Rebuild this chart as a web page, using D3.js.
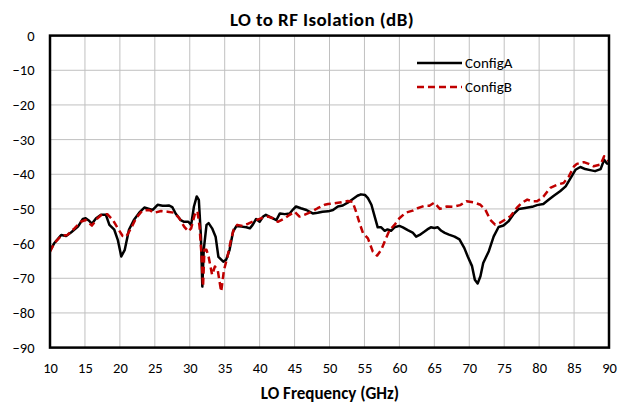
<!DOCTYPE html>
<html>
<head>
<meta charset="utf-8">
<script src="https://d3js.org/d3.v7.min.js"></script>
<style>
  body { margin: 0; background: #fff; }
  text { font-family: Carlito, Lato, "Open Sans", sans-serif; fill: #000; }
  .grid line { stroke: #c0c0c0; stroke-width: 1; }
</style>
</head>
<body>
<svg width="630" height="406"></svg>
<script>
// LO frequency (GHz) and isolation (dB)
var freqA = [10, 10.6, 11.6, 12.3, 13, 14, 14.7, 15.1, 15.6, 16, 16.6, 17.3, 18, 18.5, 19.2, 19.7, 20.2, 20.7, 21.3, 22,
  22.8, 23.5, 24.2, 24.7, 25.4, 26.1, 26.6, 27, 27.5, 28, 28.7, 29.2, 29.8, 30.2, 30.6, 31, 31.3, 31.6, 31.8, 32,
  32.4, 32.7, 33.2, 33.7, 34.1, 34.8, 35.2, 35.7, 36.2, 36.7, 37.4, 38.1, 38.6, 39, 39.5, 40, 40.5, 40.9, 41.4, 41.9,
  42.4, 42.9, 43.6, 44.3, 44.8, 45.2, 45.9, 46.7, 47.6, 48.3, 49, 49.8, 50.5, 51.2, 51.9, 52.6, 53.3, 54, 54.5, 55.1,
  55.5, 56, 56.4, 56.9, 57.4, 57.9, 58.3, 58.8, 59.3, 60, 60.5, 61.2, 61.9, 62.4, 62.9, 63.6, 64, 64.5, 65, 65.5,
  66, 66.5, 67.1, 67.9, 68.6, 69.3, 69.8, 70.4, 70.8, 71.2, 71.6, 72, 72.8, 73.5, 74.2, 74.9, 75.6, 76.3, 77.1, 78,
  79, 79.7, 80.6, 81.4, 82.1, 83, 83.8, 84.5, 85.2, 85.9, 86.6, 87.3, 88, 88.8, 89.3, 89.7, 90];
var configA = [-62, -59.9, -57.5, -57.8, -56.8, -55.1, -52.9, -52.7, -53.4, -54.3, -52.7, -51.7, -51.7, -54.6, -56, -58.9, -63.7, -61.8, -56, -53.2,
  -51, -49.6, -50, -50.3, -48.8, -49.1, -49.1, -49, -49.5, -51.4, -53.2, -53.7, -53.7, -54.6, -49.3, -46.4, -47.4, -58, -72.4, -61.8,
  -54.6, -54.1, -55.6, -58, -63.8, -65.2, -64.7, -61.8, -56.5, -54.9, -55.1, -55.3, -55.6, -54.6, -52.9, -53.7, -52.2, -51.7, -52.2, -52.7,
  -53.2, -51.3, -51.5, -51.3, -50.1, -49.3, -49.8, -50.3, -51.3, -51.1, -50.8, -50.7, -50.3, -49.3, -49, -48.2, -47.2, -46.2, -45.8, -46,
  -46.9, -48.8, -51.7, -55.3, -55.3, -56.3, -55.9, -56.3, -55.3, -54.9, -55.3, -56.1, -56.8, -58, -57.5, -56.5, -55.9, -55.3, -55.5, -55.3,
  -56.3, -56.9, -57.4, -58, -58.8, -61.3, -63.8, -66.5, -70.4, -71.5, -69.4, -65.6, -62.2, -57.9, -55.2, -54.8, -53.6, -51.6, -50, -49.7,
  -49.4, -48.9, -48.6, -47.3, -46.2, -44.9, -43.5, -41.1, -38.7, -37.9, -38.5, -38.8, -39.1, -38.5, -35.8, -36.9, -37];

var freqB = [10, 10.6, 11.6, 12.5, 13.5, 14.4, 15.1, 16, 16.8, 17.5, 18.2, 19, 19.7, 20.4, 20.9, 21.6, 22.3, 23.2, 24.2, 24.9,
  25.9, 26.8, 27.8, 28.5, 29.2, 29.8, 30.2, 30.7, 31.1, 31.4, 31.7, 31.9, 32.1, 32.4, 32.7, 33.2, 33.6, 34, 34.3, 34.5,
  34.9, 35.4, 35.9, 36.3, 36.8, 37.6, 38.3, 39.3, 40.2, 41.2, 41.9, 42.6, 43.6, 44.3, 45, 45.7, 46.4, 47.4, 48.3, 49.3,
  49.8, 50.7, 51.7, 52.6, 53.3, 53.8, 54.3, 54.8, 55.5, 56.2, 56.8, 57.4, 58, 58.6, 59.3, 60, 60.9, 61.9, 62.6, 63.6,
  64.3, 65, 65.8, 66.8, 67.7, 68.7, 69.6, 70.6, 71.6, 72.3, 73, 73.7, 74.4, 75.1, 75.9, 76.8, 77.5, 78.3, 79, 79.7,
  80.6, 81.6, 82.6, 83.5, 84.2, 85, 85.4, 86.4, 87.1, 87.8, 88.8, 89.3, 90];
var configB = [-62.3, -59.9, -57.8, -57.5, -55.6, -53.7, -53.2, -54.8, -52.7, -51.5, -51.5, -53.2, -55.6, -57.8, -58, -55.6, -52.7, -50.5, -50.3, -51.1,
  -50.6, -50.8, -51.1, -52.7, -55.1, -56.5, -55.6, -51.7, -50.6, -55.1, -63.8, -72.4, -61.8, -61.8, -63.8, -69, -66.6, -67.6, -71.4, -73.8,
  -67.6, -63.8, -58.9, -55.9, -54.6, -54.9, -54.3, -53.4, -52.7, -52.2, -52.7, -53.7, -52.7, -51.7, -50.8, -52.2, -51.7, -50.8, -49.8, -48.8,
  -48.6, -48.4, -48.1, -47.7, -47.9, -50.8, -54.1, -57, -58.5, -62.3, -63.5, -61.8, -58.9, -56.1, -54.6, -52.7, -51.1, -50.5, -49.8, -49.1,
  -49.1, -48.2, -50, -49.3, -49.4, -48.9, -47.8, -48.1, -48.8, -50.2, -53.1, -54.5, -54, -53.1, -52.1, -49.7, -48.3, -47.3, -47.8, -47.8,
  -46.5, -43.9, -43, -42.5, -40.8, -37.7, -37, -36.5, -37, -37.7, -37.2, -34.8, -36.3];

var xTicks = d3.range(10, 91, 5);
var yTicks = d3.range(0, -91, -10);

var svg = d3.select("svg");
var margin = {top: 35.6, right: 21, bottom: 58.4, left: 50};
var width = 630 - margin.left - margin.right;
var height = 406 - margin.top - margin.bottom;

var x = d3.scaleLinear().domain([10, 90]).range([0, width]);
var y = d3.scaleLinear().domain([-90, 0]).range([height, 0]);

var g = svg.append("g").attr("transform", "translate(" + margin.left + "," + margin.top + ")");

// grid
g.append("g").attr("class", "grid")
  .selectAll("line.v").data(xTicks).enter().append("line")
  .attr("x1", function(d) { return x(d); }).attr("x2", function(d) { return x(d); })
  .attr("y1", 0).attr("y2", height);
g.append("g").attr("class", "grid")
  .selectAll("line.h").data(yTicks).enter().append("line")
  .attr("y1", function(d) { return y(d); }).attr("y2", function(d) { return y(d); })
  .attr("x1", 0).attr("x2", width);

// axes (labels only)
var xAxis = g.append("g").attr("transform", "translate(0," + height + ")")
  .call(d3.axisBottom(x).tickValues(xTicks).tickSize(0).tickPadding(15));
var yAxis = g.append("g")
  .call(d3.axisLeft(y).tickValues(yTicks).tickSize(0).tickPadding(15.5));
[xAxis, yAxis].forEach(function(a) {
  a.select(".domain").remove();
  a.selectAll("text").style("font-size", "14.5px").attr("font-family", null);
});

// lines
var line = d3.line()
  .x(function(d) { return x(d[0]); })
  .y(function(d) { return y(d[1]); });

g.append("path")
  .datum(d3.zip(freqA, configA))
  .attr("d", line)
  .attr("fill", "none").attr("stroke", "#000").attr("stroke-width", 2.5)
  .attr("stroke-linejoin", "round");

g.append("path")
  .datum(d3.zip(freqB, configB))
  .attr("d", line)
  .attr("fill", "none").attr("stroke", "#c00000").attr("stroke-width", 2.5)
  .attr("stroke-dasharray", "7,4").attr("stroke-linejoin", "round");

// frame
g.append("rect").attr("width", width).attr("height", height)
  .attr("fill", "none").attr("stroke", "#000").attr("stroke-width", 2.5);

// title and axis label
svg.append("text").attr("x", 322).attr("y", 26)
  .attr("text-anchor", "middle").style("font-size", "19px").style("font-weight", "bold")
  .style("letter-spacing", "0.4px")
  .text("LO to RF Isolation (dB)");
svg.append("text").attr("x", 330).attr("y", 399)
  .attr("text-anchor", "middle").style("font-size", "17px").style("font-weight", "bold")
  .text("LO Frequency (GHz)");

// legend
var legend = svg.append("g").attr("transform", "translate(417,63)");
var items = [{name: "ConfigA", color: "#000", dash: null}, {name: "ConfigB", color: "#c00000", dash: "7,4"}];
items.forEach(function(it, i) {
  legend.append("line").attr("x1", 0).attr("x2", 45).attr("y1", i * 24).attr("y2", i * 24)
    .attr("stroke", it.color).attr("stroke-width", 2.5).attr("stroke-dasharray", it.dash);
  legend.append("text").attr("x", 48).attr("y", i * 24).attr("dy", "0.35em")
    .style("font-size", "15px").text(it.name);
});
</script>
</body>
</html>
